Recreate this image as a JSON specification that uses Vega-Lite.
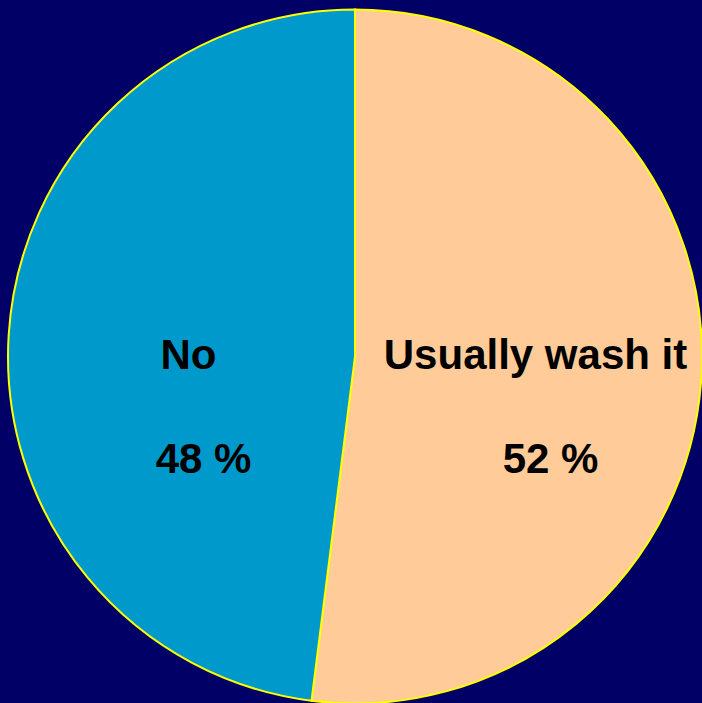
{
  "$schema": "https://vega.github.io/schema/vega-lite/v6.json",
  "width": 702,
  "height": 703,
  "autosize": {"type": "fit", "contains": "padding"},
  "padding": {"left": 8, "top": 10, "right": 0, "bottom": 0},
  "background": "#000066",
  "config": {"view": {"stroke": null}},
  "data": {
    "values": [
      {"category": "Usually wash it", "value": 52, "pct": "52 %"},
      {"category": "No", "value": 48, "pct": "48 %"}
    ]
  },
  "layer": [
    {
      "mark": {"type": "arc", "outerRadius": 347, "stroke": "#FFFF00", "strokeWidth": 2},
      "encoding": {
        "theta": {"field": "value", "type": "quantitative", "stack": true},
        "order": {"field": "category", "type": "nominal", "sort": "descending"},
        "color": {
          "field": "category",
          "type": "nominal",
          "scale": {"domain": ["Usually wash it", "No"], "range": ["#FFCC99", "#0099CC"]},
          "legend": null
        }
      }
    },
    {
      "mark": {"type": "text", "font": "Liberation Sans", "fontWeight": "bold", "fontSize": 42, "color": "#000000", "baseline": "alphabetic", "align": "center", "dx": 7, "dy": 12.5},
      "encoding": {
        "x": {"field": "category", "type": "nominal", "scale": {"type": "point", "padding": 0.5, "domain": ["No", "Usually wash it"]}, "axis": null},
        "text": {"field": "category", "type": "nominal"}
      }
    },
    {
      "mark": {"type": "text", "font": "Liberation Sans", "fontWeight": "bold", "fontSize": 42, "color": "#000000", "baseline": "alphabetic", "align": "center", "dx": 22, "dy": 116.5},
      "encoding": {
        "x": {"field": "category", "type": "nominal", "scale": {"type": "point", "padding": 0.5, "domain": ["No", "Usually wash it"]}, "axis": null},
        "text": {"field": "pct", "type": "nominal"}
      }
    }
  ]
}
